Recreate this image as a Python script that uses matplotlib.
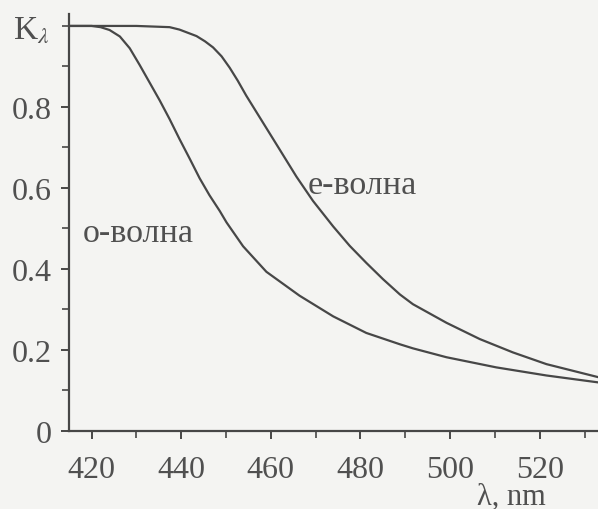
import matplotlib
matplotlib.use("Agg")
import matplotlib.pyplot as plt
from matplotlib.ticker import MultipleLocator

plt.rcParams['font.family'] = ['Liberation Serif', 'DejaVu Serif']
plt.rcParams['mathtext.fontset'] = 'stix'

# o-wave
o_wl = [415, 420, 422, 424, 426.3, 428.5, 430.7, 432.9, 435.2, 437.4, 439.6, 441.9,
        444.1, 446.3, 448.6, 450.1, 453.8, 459.0, 466.4, 473.9, 481.3, 488.8, 491.7,
        499.2, 510.3, 521.5, 533]
o_k = [1.0, 1.0, 0.997, 0.99, 0.974, 0.945, 0.904, 0.861, 0.816, 0.770, 0.721, 0.672,
       0.624, 0.582, 0.543, 0.515, 0.456, 0.393, 0.334, 0.283, 0.242, 0.214, 0.204,
       0.182, 0.157, 0.137, 0.120]
# e-wave
e_wl = [415, 430, 437.4, 439.6, 441.5, 443.4, 445.3, 447.1, 449, 450.8, 452.6, 454.5,
        458.2, 461.9, 465.7, 469.4, 473.9, 477.6, 481.3, 485.0, 488.8, 491.7, 499.2,
        506.6, 514.0, 521.5, 533]
e_k = [1.0, 1.0, 0.997, 0.991, 0.983, 0.975, 0.962, 0.947, 0.925, 0.897, 0.865, 0.828,
       0.762, 0.696, 0.628, 0.568, 0.505, 0.457, 0.415, 0.375, 0.337, 0.313, 0.267,
       0.227, 0.194, 0.165, 0.133]

x_ticks = [420, 440, 460, 480, 500, 520]
y_ticks = [0, 0.2, 0.4, 0.6, 0.8]
y_tick_labels = ['0', '0.2', '0.4', '0.6', '0.8']

bg = '#f4f4f2'
ink = '#474747'
txt = '#505050'

fig = plt.figure(figsize=(5.98, 5.10), dpi=100, facecolor=bg)
ax = fig.add_axes([0.115, 0.153, 0.885, 0.818], facecolor=bg)

ax.plot(o_wl, o_k, color=ink, lw=1.6, solid_joinstyle='round')
ax.plot(e_wl, e_k, color=ink, lw=1.6, solid_joinstyle='round')

ax.set_xlim(414.9, 533)
ax.set_ylim(0, 1.03)

for s in ['top', 'right']:
    ax.spines[s].set_visible(False)
for s in ['left', 'bottom']:
    ax.spines[s].set_color(ink)
    ax.spines[s].set_linewidth(1.6)

ax.set_xticks(x_ticks)
ax.set_xticklabels([str(v) for v in x_ticks])
ax.xaxis.set_minor_locator(MultipleLocator(10))
ax.set_yticks(y_ticks)
ax.set_yticklabels(y_tick_labels)
ax.yaxis.set_minor_locator(MultipleLocator(0.1))

ax.tick_params(axis='both', which='major', direction='out', length=6, width=1.4,
               color=ink, labelcolor=txt, labelsize=23)
ax.tick_params(axis='x', which='major', pad=11)
ax.tick_params(axis='y', which='major', pad=6)
ax.tick_params(axis='both', which='minor', direction='out', length=5, width=1.2, color=ink)

fig.text(13 / 598, 1 - 30 / 510, r'K$_\lambda$', ha='left', va='center',
         fontsize=24, color=txt)
fig.text(308 / 598, 1 - 186 / 510, 'е-волна', ha='left', va='center',
         fontsize=24.5, color=txt)
fig.text(83 / 598, 1 - 234 / 510, 'о-волна', ha='left', va='center',
         fontsize=24.5, color=txt)
fig.text(511 / 598, 1 - 497 / 510, 'λ, nm', ha='center', va='center',
         fontsize=22, color=txt)

fig.savefig('out.png', dpi=100, facecolor=bg)
